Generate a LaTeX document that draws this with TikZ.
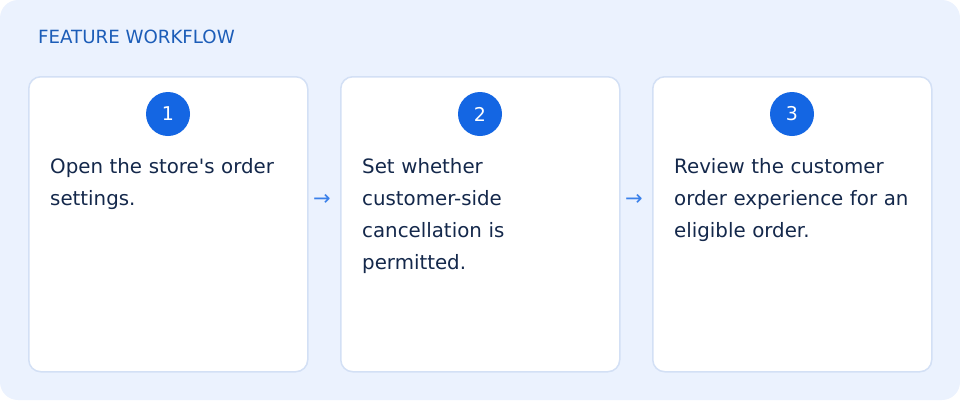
\documentclass[tikz,border=0pt]{standalone}
\usepackage{fontspec}
\setmainfont{DejaVu Sans}
\definecolor{bg}{HTML}{EBF2FE}
\definecolor{cardline}{HTML}{D3E0F5}
\definecolor{num}{HTML}{1466E3}
\definecolor{txt}{HTML}{14284B}
\definecolor{ttl}{HTML}{1C5DB8}
\definecolor{arr}{HTML}{3A80EA}
\begin{document}
\begin{tikzpicture}[x=1pt,y=-1pt,
  card/.style={draw=cardline,line width=1.5pt,fill=white,rounded corners=12pt,minimum width=279pt,minimum height=295pt,anchor=north west,inner sep=0},
  badge/.style={circle,fill=num,minimum size=44pt,inner sep=0,text=white,font=\fontsize{19}{19}\selectfont},
  body/.style={anchor=north west,align=left,text width=260pt,inner sep=0,text=txt,font=\fontsize{19.8}{32}\selectfont},
  arrow/.style={text=arr,font=\fontsize{21}{21}\selectfont,inner sep=0}]
\useasboundingbox (0,0) rectangle (960,400);
\fill[bg,rounded corners=18pt] (0,0) rectangle (960,400);
\node[anchor=west,inner sep=0,text=ttl,font=\fontsize{18.2}{18.2}\selectfont] (title) at (38,37) {FEATURE WORKFLOW};
\node[card] (c1) at (28,76) {};
\node[card] (c2) at (340,76) {};
\node[card] (c3) at (652,76) {};
\node[badge] (b1) at (168,114) {1};
\node[badge] (b2) at (480,114) {2};
\node[badge] (b3) at (792,114) {3};
\node[body] (t1) at (50,158) {Open the store\textquotesingle s order\\settings.};
\node[body] (t2) at (362,158) {Set whether\\customer-side\\cancellation is\\permitted.};
\node[body] (t3) at (674,158) {Review the customer\\order experience for an\\eligible order.};
\node[arrow] (a1) at (322,200) {→};
\node[arrow] (a2) at (634,200) {→};
\end{tikzpicture}
\end{document}
